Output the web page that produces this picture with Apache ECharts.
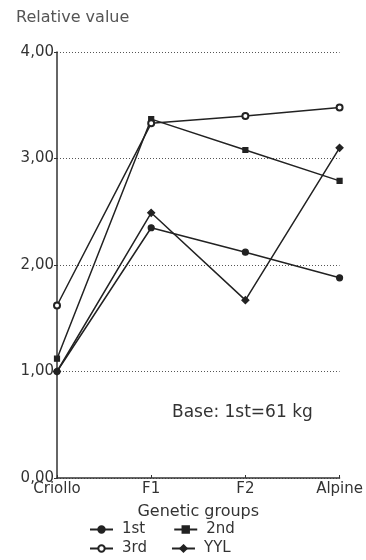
<!DOCTYPE html>
<html>
<head>
<meta charset="utf-8">
<script src="https://cdn.jsdelivr.net/npm/echarts@6/dist/echarts.min.js"></script>
<style>
  html, body { margin: 0; padding: 0; background: #fff; }
  #chart { width: 366px; height: 560px; }
</style>
</head>
<body>
<div id="chart"></div>
<script>
// Genetic groups along the x axis
const groups = ['Criollo', 'F1', 'F2', 'Alpine'];

// Relative values per parity / yearling group (base: 1st at Criollo = 61 kg)
const first  = [1.00, 2.35, 2.12, 1.88];
const second = [1.12, 3.37, 3.08, 2.79];
const third  = [1.62, 3.33, 3.40, 3.48];
const yyl    = [1.00, 2.49, 1.67, 3.10];

const seriesNames = ['1st', '2nd', '3rd', 'YYL'];
const yTicks = [0, 1, 2, 3, 4];

const FONT = 'DejaVu Sans';
const INK = '#222';

function lineSeries(name, data, symbol, size) {
  return {
    name: name,
    type: 'line',
    data: data,
    symbol: symbol,
    symbolSize: size,
    showSymbol: true,
    lineStyle: { color: INK, width: 1.5 },
    itemStyle: { color: INK, borderColor: INK, borderWidth: 1.2 },
    z: 3
  };
}

const legendText = {
  fontFamily: FONT, fontSize: 15, color: '#333',
  padding: [0, 0, 0, 4]
};

const chart = echarts.init(document.getElementById('chart'), null, { renderer: 'canvas' });

chart.setOption({
  animation: false,
  backgroundColor: '#fff',
  title: {
    text: 'Relative value',
    left: 11,
    top: 5,
    textStyle: { fontFamily: FONT, fontSize: 16, fontWeight: 'normal', color: '#555' }
  },
  grid: { left: 57, right: 26, top: 52, bottom: 82 },
  xAxis: {
    type: 'category',
    data: groups,
    boundaryGap: false,
    name: 'Genetic groups',
    nameLocation: 'middle',
    nameGap: 26,
    nameTextStyle: { fontFamily: FONT, fontSize: 16, color: '#333' },
    axisLine: { lineStyle: { color: '#333', width: 1.5 } },
    axisTick: { show: true, inside: true, length: 3, lineStyle: { color: '#333' } },
    axisLabel: { fontFamily: FONT, fontSize: 15, color: '#333', margin: 4 },
    splitLine: { show: false }
  },
  yAxis: {
    type: 'value',
    min: yTicks[0],
    max: yTicks[yTicks.length - 1],
    interval: 1,
    axisLine: { show: true, lineStyle: { color: '#333', width: 1.5 } },
    axisTick: { show: true, length: 3, lineStyle: { color: '#333' } },
    axisLabel: {
      fontFamily: FONT, fontSize: 15, color: '#333', margin: 3,
      formatter: v => v.toFixed(2).replace('.', ',')
    },
    splitLine: { show: true, lineStyle: { color: '#555', width: 1.2, type: [1, 2] } }
  },
  legend: [
    {
      data: [seriesNames[0], seriesNames[1]],
      left: 84, top: 517,
      itemWidth: 23, itemHeight: 8, itemGap: 28,
      textStyle: legendText
    },
    {
      data: [seriesNames[2], seriesNames[3]],
      left: 84, top: 536,
      itemWidth: 23, itemHeight: 8, itemGap: 24,
      textStyle: legendText
    }
  ],
  graphic: [
    {
      type: 'text',
      left: 172,
      top: 404,
      style: { text: 'Base: 1st=61 kg', font: '17px "DejaVu Sans"', fill: '#333' }
    }
  ],
  series: [
    lineSeries(seriesNames[0], first, 'circle', 6),
    lineSeries(seriesNames[1], second, 'rect', 5),
    lineSeries(seriesNames[2], third, 'emptyCircle', 6),
    lineSeries(seriesNames[3], yyl, 'diamond', 7)
  ]
});
</script>
</body>
</html>
